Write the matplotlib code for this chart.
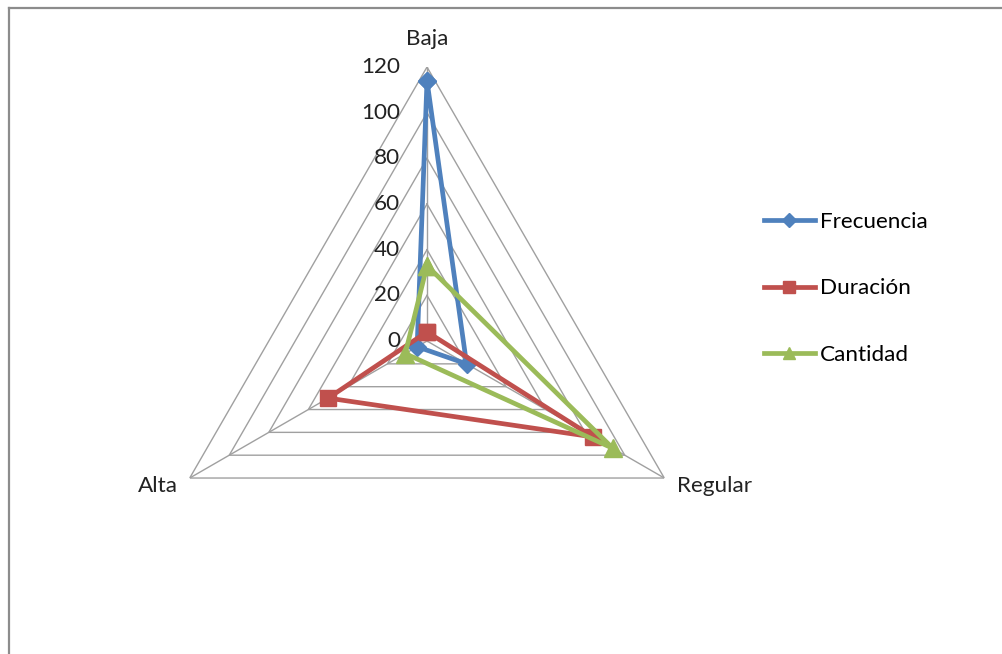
from matplotlib import pyplot as plt
from matplotlib.lines import Line2D
import numpy as np

categories = ['Baja', 'Regular', 'Alta']
frecuencia = [114, 20, 5]
duracion = [4, 84, 50]
cantidad = [33, 94, 11]
r_ticks = [0, 20, 40, 60, 80, 100, 120]

series = [
    ('Frecuencia', frecuencia, '#4F81BD', 'D', 9.5),
    ('Duración', duracion, '#C0504D', 's', 12),
    ('Cantidad', cantidad, '#9BBB59', '^', 13),
]

plt.rcParams['font.family'] = ['Lato', 'DejaVu Sans']
fs = 16.2

fig = plt.figure(figsize=(10.02, 6.54), dpi=100)
ax = fig.add_axes([0.1527, 0.0596, 0.5469, 0.8379], projection='polar')
ax.set_theta_zero_location('N')
ax.set_theta_direction(-1)
ax.set_ylim(0, 120)
ax.grid(False)
ax.set_xticks([])
ax.set_yticks([])
ax.spines['polar'].set_visible(False)
ax.patch.set_visible(False)

angles = np.arange(len(categories)) * 2 * np.pi / len(categories)
closed = np.append(angles, angles[0])

# triangular grid + spokes
grid_col = '#a0a0a0'
for r in r_ticks[1:]:
    ax.plot(closed, [r] * len(closed), color=grid_col, lw=1.0, zorder=1)
for a in angles:
    ax.plot([a, a], [0, r_ticks[-1]], color=grid_col, lw=1.0, zorder=1)

# radial tick labels along the Baja axis
for r in r_ticks:
    ax.annotate(str(r), xy=(0, r), xytext=(-27, 0), textcoords='offset pixels',
                ha='right', va='center', fontsize=fs, color='#222222')

# category labels
offsets = [((0, 28), 'center', 'center'), ((13, -8), 'left', 'center'), ((-12, -8), 'right', 'center')]
for a, name, (off, ha, va) in zip(angles, categories, offsets):
    ax.annotate(name, xy=(a, r_ticks[-1]), xytext=off, textcoords='offset pixels',
                ha=ha, va=va, fontsize=fs, color='#222222')

for name, vals, col, mk, ms in series:
    v = np.append(vals, vals[0])
    ax.plot(closed, v, color=col, lw=3.4, marker=mk, markersize=ms,
            label=name, zorder=3, clip_on=False)

fig.legend(loc='center left', bbox_to_anchor=(0.762, 0.559), frameon=False,
           fontsize=fs, handlelength=2.3, handletextpad=0.2, labelspacing=2.05,
           borderpad=0, borderaxespad=0, markerscale=0.7)

# chart-area border (left and top)
fig.add_artist(Line2D([9 / 1002, 9 / 1002], [0, 1 - 8 / 654], transform=fig.transFigure,
                      color='#8c8c8c', lw=1.6))
fig.add_artist(Line2D([9 / 1002, 1], [1 - 8 / 654, 1 - 8 / 654], transform=fig.transFigure,
                      color='#8c8c8c', lw=1.6))

plt.savefig('out.png', dpi=100)
